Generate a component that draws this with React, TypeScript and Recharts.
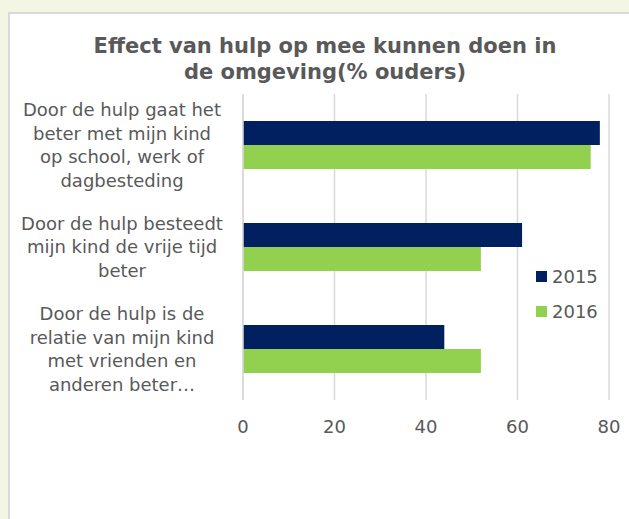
import { Bar, BarChart, CartesianGrid, XAxis, YAxis } from "recharts";

const categories = [
  "Door de hulp gaat het beter met mijn kind op school, werk of dagbesteding",
  "Door de hulp besteedt mijn kind de vrije tijd beter",
  "Door de hulp is de relatie van mijn kind met vrienden en anderen beter…"
];
const labelLines = [
  ["Door de hulp gaat het", "beter met mijn kind", "op school, werk of", "dagbesteding"],
  ["Door de hulp besteedt", "mijn kind de vrije tijd", "beter"],
  ["Door de hulp is de", "relatie van mijn kind", "met vrienden en", "anderen beter…"]
];
const values2015 = [78, 61, 44];
const values2016 = [76, 52, 52];
const xTicks = [0, 20, 40, 60, 80];
const seriesNames = ["2015", "2016"];

const FONT = "'DejaVu Sans', Verdana, sans-serif";
const TEXT = "#595959";
const NAVY = "#002060";
const GREEN = "#92D050";

const chartData = categories.map((name, i) => ({
  name,
  y2015: values2015[i],
  y2016: values2016[i]
}));

function CategoryTick(props: any) {
  const { y, payload } = props;
  const lines: string[] = labelLines[payload.index] ?? [payload.value];
  const lh = 23.5;
  const start = y - ((lines.length - 1) * lh) / 2;
  return (
    <text x={122} y={start} textAnchor="middle" fill={TEXT} fontSize={18} fontFamily={FONT}>
      {lines.map((line, i) => (
        <tspan key={i} x={122} y={start + i * lh} dy="0.35em">
          {line}
        </tspan>
      ))}
    </text>
  );
}

function ValueTick(props: any) {
  const { x, payload } = props;
  return (
    <text x={x} y={433} textAnchor="middle" fill={TEXT} fontSize={18} fontFamily={FONT}>
      {payload.value}
    </text>
  );
}

function LegendBox() {
  const colors = [NAVY, GREEN];
  return (
    <div style={{ position: "absolute", left: 536, top: 259, fontFamily: FONT, fontSize: 18, color: TEXT }}>
      {seriesNames.map((s, i) => (
        <div key={s} style={{ display: "flex", alignItems: "center", height: 35 }}>
          <span style={{ width: 11, height: 11, background: colors[i], marginRight: 5 }} />
          <span>{s}</span>
        </div>
      ))}
    </div>
  );
}

export default function App() {
  return (
    <div style={{ position: "fixed", left: 0, top: 0, width: 629, height: 519, background: "#f4f6e4", overflow: "hidden" }}>
      <div
        style={{
          position: "absolute",
          left: 8,
          top: 12,
          width: 640,
          height: 540,
          background: "#ffffff",
          border: "2px solid #d9d9d9",
          boxSizing: "border-box"
        }}
      />
      <div
        style={{
          position: "absolute",
          left: 0,
          width: 650,
          top: 33,
          textAlign: "center",
          fontFamily: FONT,
          fontWeight: "bold",
          fontSize: 21,
          lineHeight: "26px",
          color: TEXT
        }}
      >
        Effect van hulp op mee kunnen doen in
        <br />
        de omgeving(% ouders)
      </div>
      <div style={{ position: "absolute", left: 0, top: 0 }}>
        <BarChart
          width={629}
          height={519}
          data={chartData}
          layout="vertical"
          barCategoryGap={54}
          barGap={0}
          margin={{ top: 94, right: 20, bottom: 79, left: 0 }}
        >
          <CartesianGrid horizontal={false} stroke="#d9d9d9" strokeWidth={1.5} />
          <XAxis
            type="number"
            domain={[0, 80]}
            ticks={xTicks}
            axisLine={false}
            tickLine={false}
            height={40}
            tick={<ValueTick />}
          />
          <YAxis
            type="category"
            dataKey="name"
            width={243}
            axisLine={{ stroke: "#d9d9d9", strokeWidth: 1.5 }}
            tickLine={false}
            tick={<CategoryTick />}
            interval={0}
          />
          <Bar dataKey="y2015" name="2015" fill={NAVY} barSize={24} isAnimationActive={false} />
          <Bar dataKey="y2016" name="2016" fill={GREEN} barSize={24} isAnimationActive={false} />
        </BarChart>
      </div>
      <LegendBox />
    </div>
  );
}
